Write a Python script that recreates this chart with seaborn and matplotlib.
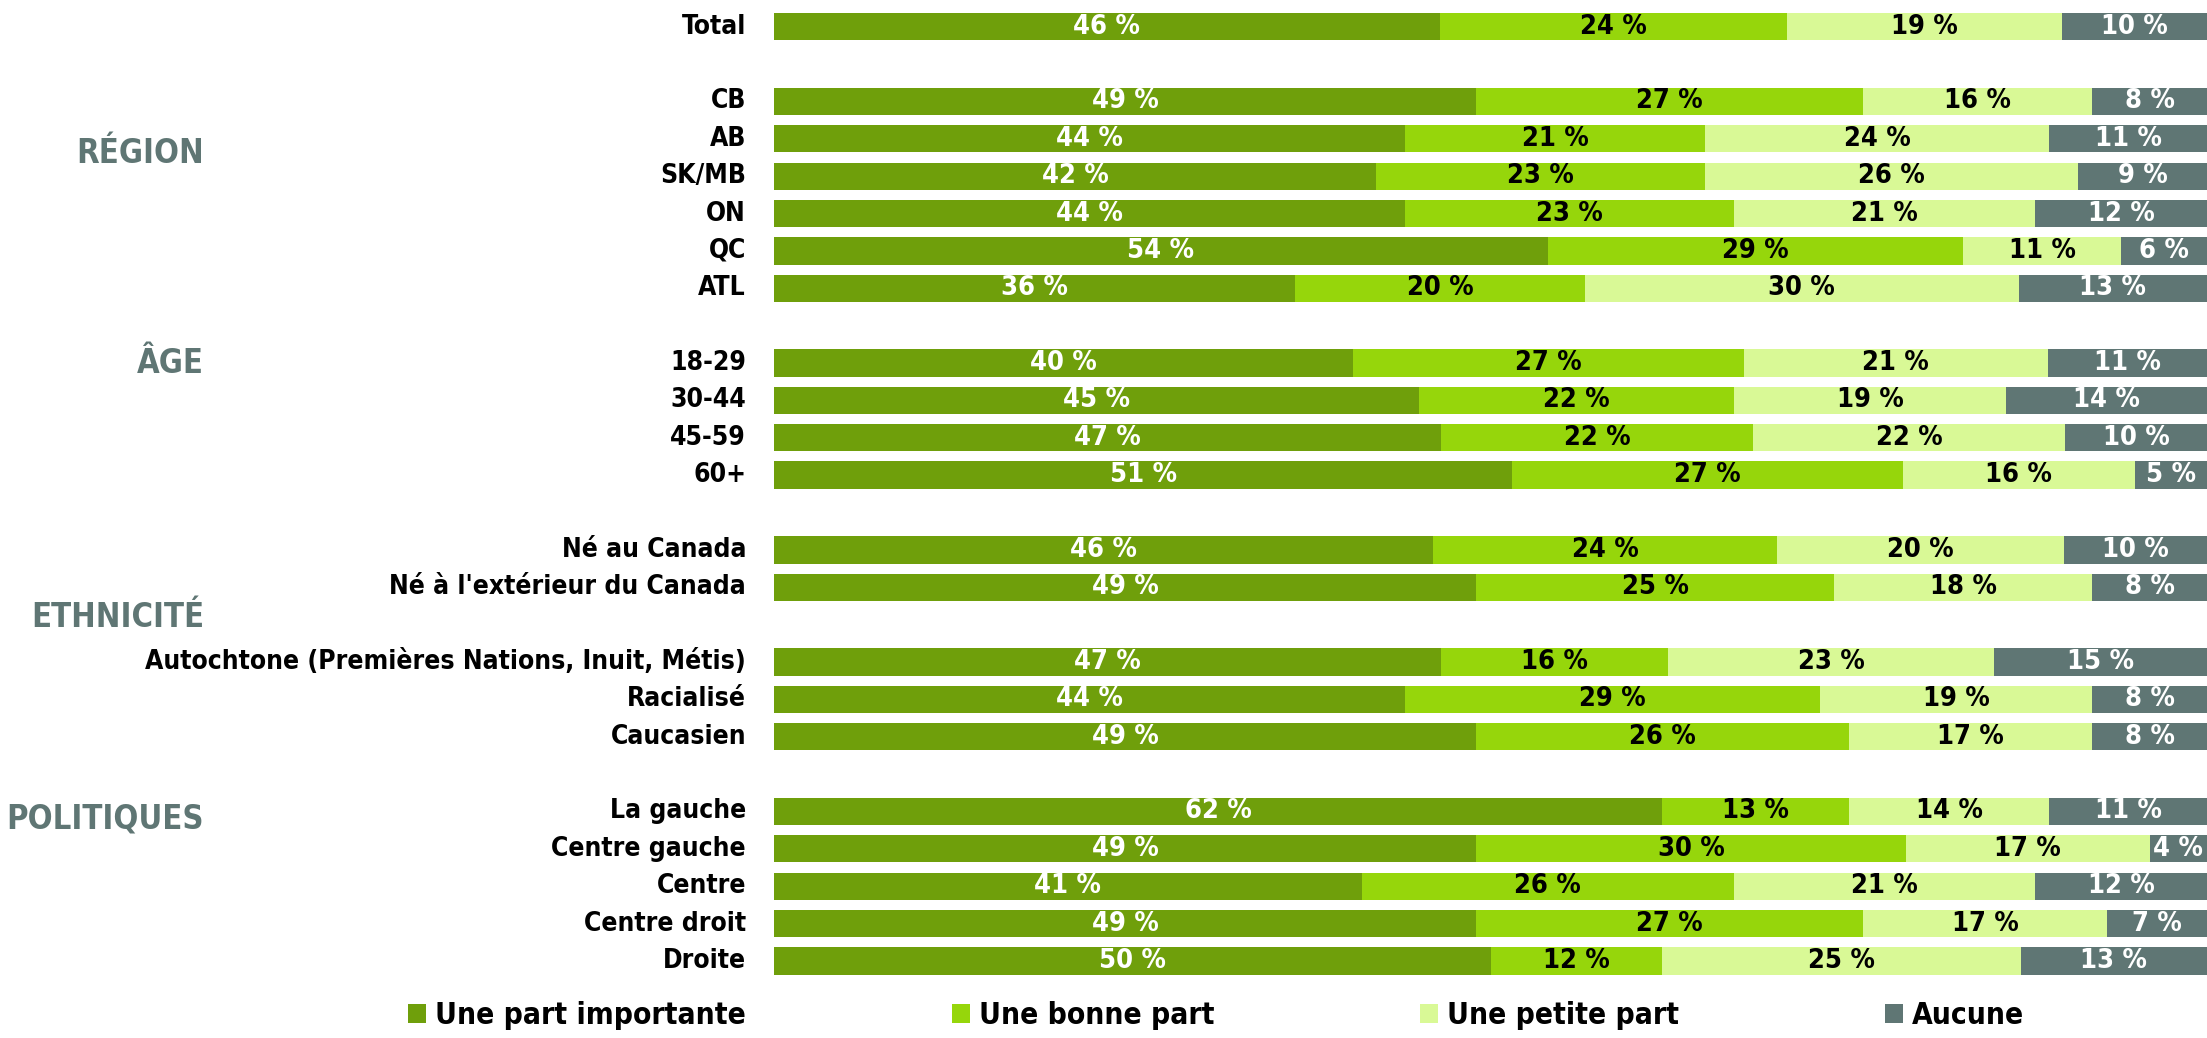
import numpy as np
import pandas as pd
import seaborn as sns
import matplotlib.pyplot as plt
from matplotlib.patches import Patch

#########
# Data  #
#########

categories = ["Total",
              "CB", "AB", "SK/MB", "ON", "QC", "ATL",
              "18-29", "30-44", "45-59", "60+",
              "Né au Canada", "Né à l'extérieur du Canada",
              "Autochtone (Premières Nations, Inuit, Métis)", "Racialisé", "Caucasien",
              "La gauche", "Centre gauche", "Centre", "Centre droit", "Droite"]
rows = [0, 2, 3, 4, 5, 6, 7, 9, 10, 11, 12, 14, 15, 17, 18, 19, 21, 22, 23, 24, 25]

part_importante = [46, 49, 44, 42, 44, 54, 36, 40, 45, 47, 51, 46, 49, 47, 44, 49, 62, 49, 41, 49, 50]
bonne_part      = [24, 27, 21, 23, 23, 29, 20, 27, 22, 22, 27, 24, 25, 16, 29, 26, 13, 30, 26, 27, 12]
petite_part     = [19, 16, 24, 26, 21, 11, 30, 21, 19, 22, 16, 20, 18, 23, 19, 17, 14, 17, 21, 17, 25]
aucune          = [10,  8, 11,  9, 12,  6, 13, 11, 14, 10,  5, 10,  8, 15,  8,  8, 11,  4, 12,  7, 13]

series_names = ["Une part importante", "Une bonne part", "Une petite part", "Aucune"]
colors = ["#6f9f0b", "#96d60b", "#d9f996", "#5f7674"]
text_colors = ["white", "black", "black", "white"]

groups = ["RÉGION", "ÂGE", "ETHNICITÉ", "POLITIQUES"]
group_rows = [3.4, 9.0, 15.8, 21.2]

#########
# Setup #
#########

sns.set_theme(style="white")
plt.rcParams['font.family'] = ['DejaVu Sans']
plt.rcParams['font.stretch'] = 'condensed'
plt.rcParams['font.weight'] = 'bold'
plt.rcParams['text.color'] = 'black'

vals = np.array([part_importante, bonne_part, petite_part, aucune], dtype=float).T
shares = vals / vals.sum(axis=1, keepdims=True) * 100
cum = np.cumsum(shares, axis=1)

fig = plt.figure(figsize=(22.07, 10.38), dpi=100)
W, H = 2207, 1038
ax = fig.add_axes([774 / W, 0, (W - 774) / W, 1])

# stacked bars: draw cumulative totals from the widest to the narrowest
for k in range(3, -1, -1):
    df = pd.DataFrame({"val": cum[:, k], "row": rows})
    sns.barplot(data=df, x="val", y="row", orient="h", native_scale=True,
                color=colors[k], width=0.73, errorbar=None, saturation=1,
                linewidth=0, ax=ax)

# percentage labels
for i, r in enumerate(rows):
    left = 0
    for k in range(4):
        ax.text(left + shares[i, k] / 2, r, f"{vals[i, k]:.0f} %", ha="center", va="center",
                color=text_colors[k], fontsize=19.5, fontweight="bold")
        left += shares[i, k]

row_px = 37.37
top = -26.7 / row_px
bottom = (H - 26.7) / row_px
ax.set_ylim(bottom, top)
ax.set_xlim(0, 100)
ax.axis("off")

# category labels
for cat, r in zip(categories, rows):
    ax.text(-28 / (W - 774) * 100, r, cat, ha="right", va="center",
            fontsize=19, fontweight="bold", color="black", clip_on=False)

# group labels
for g, r in zip(groups, group_rows):
    ax.text((204 - 774) / (W - 774) * 100, r, g, ha="right", va="center",
            fontsize=23.5, fontweight="bold", color="#5f7674", clip_on=False)

# legend
handles = [Patch(facecolor=c, edgecolor="none") for c in colors]
fig.legend(handles, series_names, loc="center", bbox_to_anchor=(0.551, 1 - 1016 / H),
           ncol=4, frameon=False, handlelength=0.6, handleheight=0.6,
           handletextpad=0.3, columnspacing=6.9, labelcolor="black",
           prop={"weight": "bold", "size": 21.5, "stretch": "condensed"})

fig.savefig("out.png", dpi=100)
